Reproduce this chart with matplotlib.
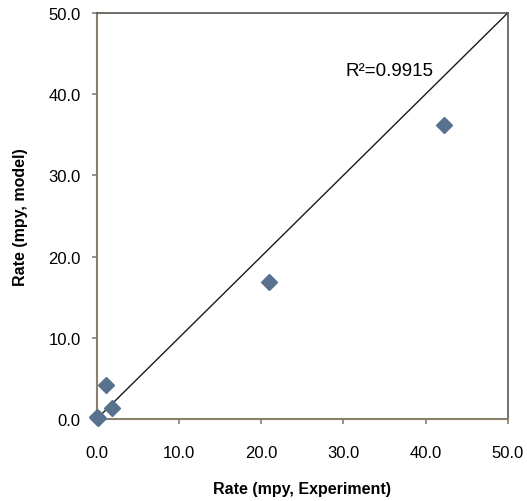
import matplotlib
matplotlib.use("Agg")
import matplotlib.pyplot as plt
from matplotlib.ticker import FormatStrFormatter

plt.rcParams['font.family'] = ['Liberation Sans', 'DejaVu Sans']

experiment = [0.0, 0.1, 1.1, 1.8, 21.0, 42.3]
model = [0.3, 0.1, 4.2, 1.4, 16.9, 36.2]
ticks = [0, 10, 20, 30, 40, 50]
r2_text = "R²=0.9915"
r2_pos = (30.3, 42.4)

fig = plt.figure(figsize=(5.27, 5.02), dpi=100)
ax = fig.add_axes([0.1835, 0.1633, 0.78, 0.809])

ax.plot([0, 50], [0, 50], color='#1a1a1a', lw=1.0, zorder=2)
ax.plot(experiment, model, linestyle='none', marker='D', ms=8.5,
        color='#58718f', markeredgecolor='#58718f', zorder=3, clip_on=False)

ax.set_xlim(0, 50)
ax.set_ylim(0, 50)
ax.set_xticks(ticks)
ax.set_yticks(ticks)
ax.xaxis.set_major_formatter(FormatStrFormatter('%.1f'))
ax.yaxis.set_major_formatter(FormatStrFormatter('%.1f'))

spine_col = '#8a7e6c'
for s in ['left', 'bottom']:
    ax.spines[s].set_color(spine_col)
    ax.spines[s].set_linewidth(1.5)
for s in ['top', 'right']:
    ax.spines[s].set_color('#5a5650')
    ax.spines[s].set_linewidth(1.2)

ax.tick_params(axis='both', direction='out', length=3.6, width=1.2,
               color=spine_col, labelsize=12, top=False, right=False)
ax.tick_params(axis='x', pad=15)
ax.tick_params(axis='y', pad=8)

ax.text(r2_pos[0], r2_pos[1], r2_text, fontsize=13.5, va='baseline', ha='left')

ax.set_xlabel("Rate (mpy, Experiment)", fontsize=11.5, fontweight='bold')
ax.set_ylabel("Rate (mpy, model)", fontsize=11.5, fontweight='bold')
ax.xaxis.label.set_verticalalignment('center')
ax.yaxis.label.set_verticalalignment('center')
ax.xaxis.set_label_coords(0.5, -0.170)
ax.yaxis.set_label_coords(-0.1866, 0.5)

fig.savefig("out.png", dpi=100)
